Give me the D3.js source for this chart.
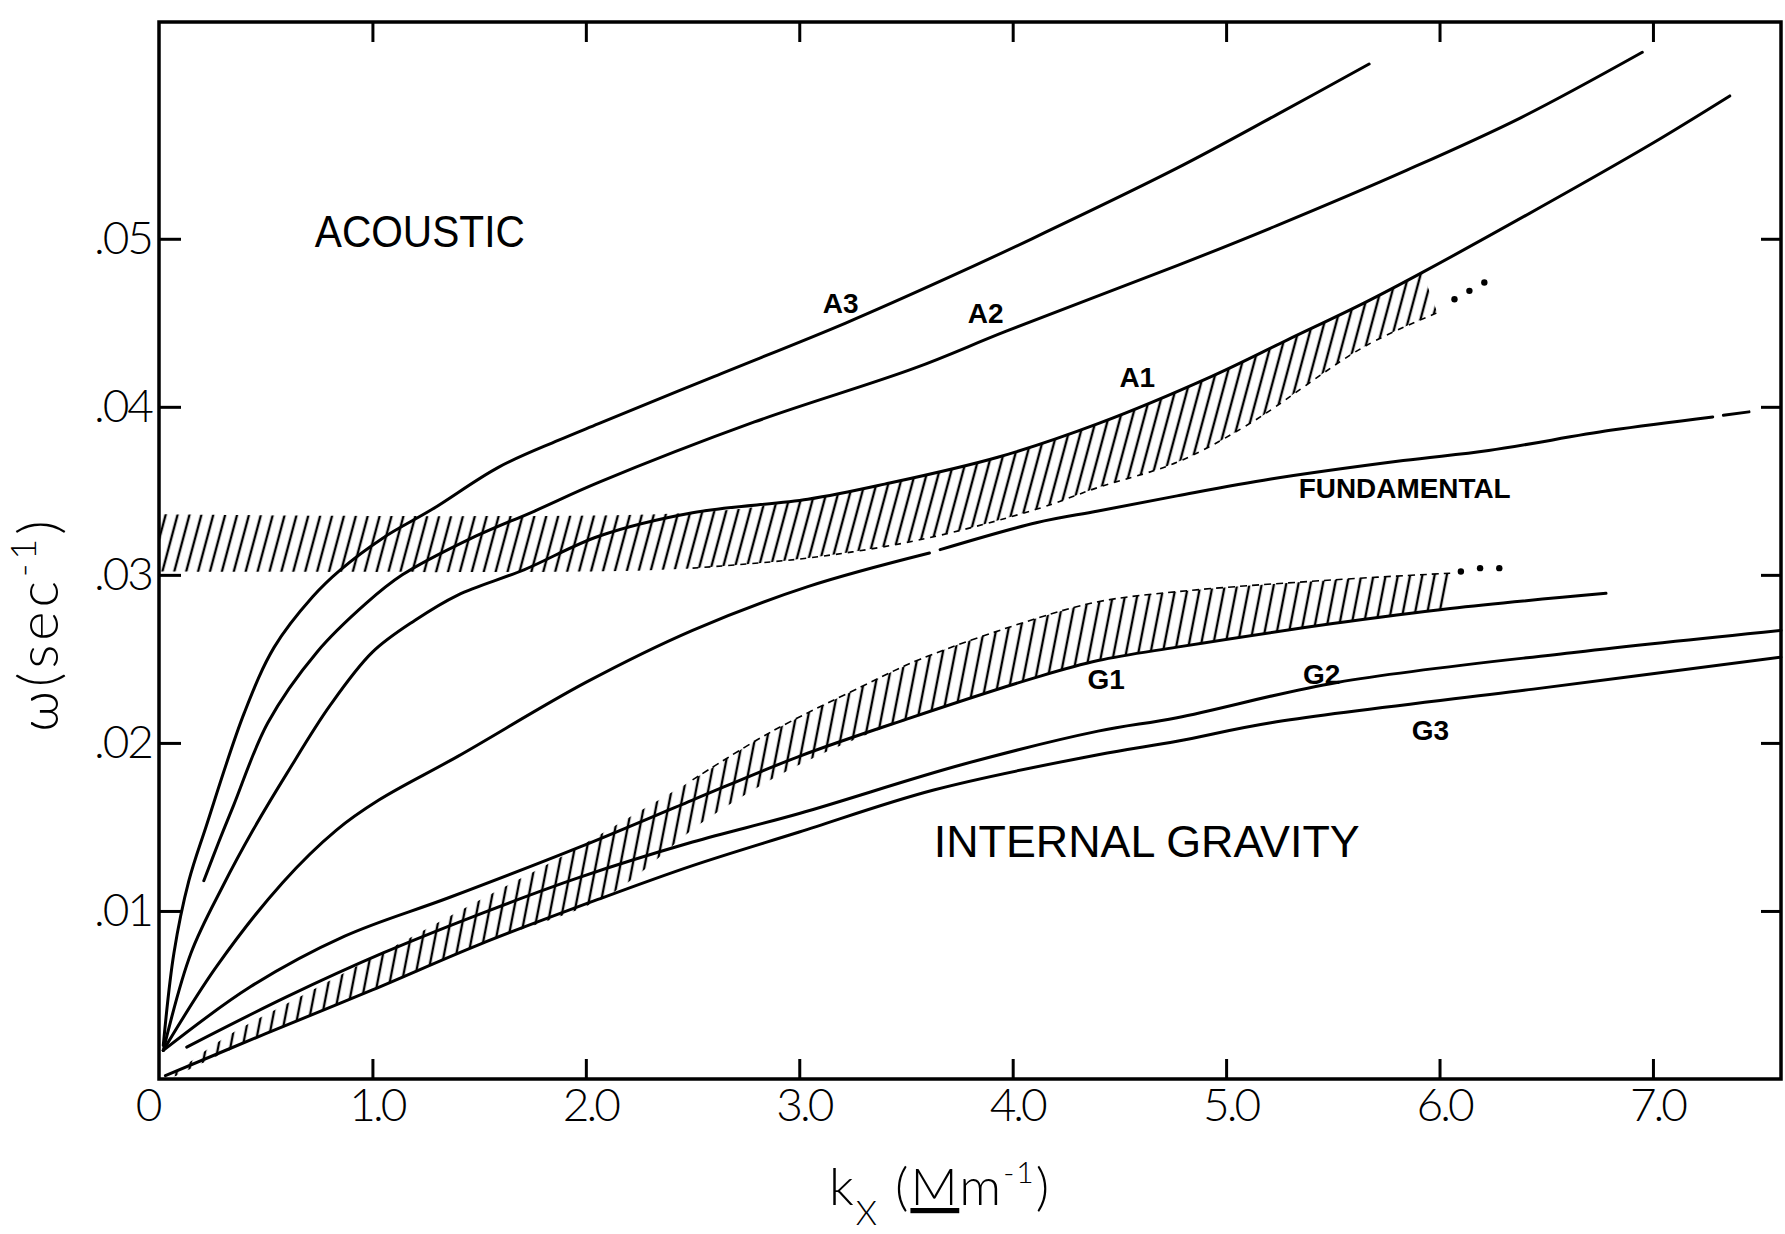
<!DOCTYPE html>
<html lang="en">
<head>
<meta charset="UTF-8">
<script src="https://cdn.jsdelivr.net/npm/d3@7"></script>
<style>
  body { margin: 0; background: #fff; }
</style>
</head>
<body>
<div id="fig"></div>
<script>
const width = 1785, height = 1234;

// dispersion curves, [k_x (Mm^-1), omega (sec^-1)]
const a3Curve = [[0.02,0.0020],[0.07,0.0075],[0.14,0.0118],[0.22,0.0150],[0.40,0.0218],[0.54,0.0257],[0.72,0.0287],[0.85,0.0303],[1.05,0.0322],[1.28,0.0339],[1.59,0.0364],[1.87,0.0380],[2.06,0.0390],[2.6,0.0418],[3.22,0.0450],[3.7,0.0477],[4.09,0.0500],[4.77,0.0542],[5.24,0.0574],[5.67,0.0604]];
const a2Curve = [[0.21,0.0118],[0.28,0.0141],[0.35,0.0163],[0.51,0.0212],[0.74,0.0254],[0.97,0.0283],[1.14,0.0300],[1.45,0.0321],[1.76,0.0338],[2.06,0.0355],[2.79,0.0391],[3.54,0.0423],[3.97,0.0445],[4.77,0.0484],[5.24,0.0508],[5.85,0.0541],[6.38,0.0572],[6.95,0.0611]];
const a1Curve = [[0.02,0.0017],[0.15,0.0075],[0.30,0.0115],[0.44,0.0148],[0.60,0.0182],[0.80,0.0222],[1.00,0.0254],[1.20,0.0273],[1.40,0.0288],[1.71,0.0303],[2.06,0.0323],[2.50,0.0337],[3.04,0.0345],[3.40,0.0354],[3.93,0.0370],[4.40,0.0390],[4.93,0.0418],[5.29,0.0440],[5.65,0.0462],[5.92,0.0480],[6.56,0.0525],[7.00,0.0557],[7.36,0.0585]];
const fundCurve = [[0.02,0.0017],[0.27,0.0067],[0.58,0.0117],[0.83,0.0148],[1.03,0.0166],[1.40,0.0192],[2.00,0.0236],[2.50,0.0267],[3.04,0.0293],[3.61,0.0313]];
const fundCurve2 = [[3.66,0.0315],[4.11,0.0331],[4.40,0.0338],[4.77,0.0347],[5.21,0.0357],[5.83,0.0368],[6.23,0.0374],[6.80,0.0386],[7.28,0.0394]];
const fundCurve3 = [[7.33,0.0395],[7.45,0.0397]];
const g1Curve = [[0.02,0.0017],[0.43,0.0055],[0.87,0.0085],[1.36,0.0108],[1.97,0.0138],[2.5,0.0166],[3.0,0.0192],[3.5,0.0214],[4.11,0.0239],[4.40,0.0249],[4.77,0.0257],[5.5,0.0271],[6.05,0.0280],[6.78,0.0289]];
const g2Curve = [[0.13,0.0019],[0.6,0.0049],[1.05,0.0075],[1.5,0.0098],[1.97,0.0120],[2.5,0.0141],[3.0,0.0158],[3.76,0.0187],[4.40,0.0207],[4.77,0.0215],[5.52,0.0236],[6.64,0.0254],[7.6,0.0267]];
const g3Curve = [[0.03,0.0002],[0.5,0.0027],[1.0,0.0053],[1.5,0.0080],[2.06,0.0107],[2.5,0.0127],[3.0,0.0147],[3.63,0.0172],[4.40,0.0193],[4.77,0.0201],[5.21,0.0212],[6.44,0.0232],[7.6,0.0251]];

// hatched (observed) regions
const aBandTop = [[0,0.0336],[2.5,0.0337],[3.04,0.0345],[3.40,0.0354],[3.93,0.0370],[4.40,0.0390],[4.93,0.0418],[5.29,0.0440],[5.65,0.0462],[5.92,0.0480]];
const aBandBottom = [[0,0.0302],[2.0,0.0302],[2.5,0.0304],[3.04,0.0310],[3.57,0.0321],[4.11,0.0339],[4.40,0.0352],[4.77,0.0367],[5.11,0.0390],[5.65,0.0436],[5.99,0.0456]];
const gBandTop = [[0.05,0.0001],[0.3,0.0024],[0.66,0.0049],[1.19,0.0085],[1.6,0.0113],[1.94,0.0136],[2.1,0.0148],[2.5,0.0178],[2.86,0.0206],[3.3,0.0234],[3.57,0.0250],[4.11,0.0274],[4.40,0.0284],[4.77,0.0290],[5.5,0.0297],[6.05,0.0301]];
const gBandBottom = [[0.05,0.0],[0.5,0.0027],[1.0,0.0053],[1.5,0.0080],[2.1,0.0109],[2.56,0.0154],[3.0,0.0187],[3.5,0.0214],[4.11,0.0239],[4.40,0.0249],[4.77,0.0257],[5.5,0.0271],[6.05,0.0280]];
const aDots = [[6.07,0.0464],[6.14,0.0469],[6.21,0.0474]];
const gDots = [[6.10,0.0302],[6.19,0.0304],[6.28,0.0304]];

const xTicks = [0,1,2,3,4,5,6,7];
const xTickLabels = ["0","1.0","2.0","3.0","4.0","5.0","6.0","7.0"];
const yTicks = [0.01,0.02,0.03,0.04,0.05];
const yTickLabels = [".01",".02",".03",".04",".05"];

const curveNames = ["A3","A2","A1","FUNDAMENTAL","G1","G2","G3"];
const curveNameAt = [[3.11,0.0456],[3.79,0.0450],[4.50,0.0412],[5.34,0.0346],[4.35,0.0232],[5.36,0.0235],[5.87,0.0202]];
const regionNames = ["ACOUSTIC","INTERNAL GRAVITY"];
const regionNameAt = [[0.73,0.0495],[3.63,0.0132]];

const x = d3.scaleLinear().domain([0, 7.6]).range([159, 1781]);
const y = d3.scaleLinear().domain([0, 0.0629]).range([1079, 22]);

const svg = d3.select("#fig").append("svg")
    .attr("width", width)
    .attr("height", height)
    .style("display", "block");
svg.append("rect").attr("width", width).attr("height", height).attr("fill", "#fff");

const defs = svg.append("defs");
function hatch(id, gap, angle, sw) {
    const p = defs.append("pattern")
        .attr("id", id)
        .attr("patternUnits", "userSpaceOnUse")
        .attr("width", gap).attr("height", 40)
        .attr("patternTransform", `rotate(${angle})`);
    p.append("line").attr("x1", gap/2).attr("x2", gap/2).attr("y1", -2).attr("y2", 42)
        .attr("stroke", "#000").attr("stroke-width", sw);
}
hatch("hatchA", 11.5, 15, 2.4);
hatch("hatchG", 12, 11, 2.4);

const line = d3.line().x(d => x(d[0])).y(d => y(d[1])).curve(d3.curveCatmullRom.alpha(0.5));

function band(top, bottom) {
    const t = line(top);
    const b = line(bottom.slice().reverse());
    return t + "L" + b.slice(1) + "Z";
}

svg.append("path").attr("d", band(aBandTop, aBandBottom)).attr("fill", "url(#hatchA)");
svg.append("path").attr("d", band(gBandTop, gBandBottom)).attr("fill", "url(#hatchG)");

// ragged hand-drawn edges of the hatching
svg.append("path").attr("d", line(aBandBottom.filter(d => d[0] >= 2.5)))
    .attr("fill", "none").attr("stroke", "#000").attr("stroke-width", 1.6)
    .attr("stroke-dasharray", "6,6");
svg.append("path").attr("d", line(gBandTop.filter(d => d[0] >= 2.5)))
    .attr("fill", "none").attr("stroke", "#000").attr("stroke-width", 1.6)
    .attr("stroke-dasharray", "7,5");

const curves = [a3Curve, a2Curve, a1Curve, fundCurve, fundCurve2, fundCurve3, g1Curve, g2Curve, g3Curve];
svg.append("g").selectAll("path").data(curves).join("path")
    .attr("d", line)
    .attr("fill", "none")
    .attr("stroke", "#000")
    .attr("stroke-width", 3)
    .attr("stroke-linecap", "round");

svg.append("g").selectAll("circle").data(aDots.concat(gDots)).join("circle")
    .attr("cx", d => x(d[0])).attr("cy", d => y(d[1])).attr("r", 3.2).attr("fill", "#000");

// frame and inward ticks
svg.append("rect")
    .attr("x", x(0)).attr("y", y(0.0629))
    .attr("width", x(7.6) - x(0)).attr("height", y(0) - y(0.0629))
    .attr("fill", "none").attr("stroke", "#000").attr("stroke-width", 3.5);

const tickFont = "Lato, 'Open Sans', 'DejaVu Sans', sans-serif";

function styleAxis(g) {
    g.select(".domain").remove();
    g.selectAll(".tick line").attr("stroke", "#000").attr("stroke-width", 3);
    g.selectAll(".tick text").attr("fill", "#000");
}

svg.append("g").attr("transform", `translate(0,${y(0)})`)
    .call(d3.axisBottom(x).tickValues(xTicks).tickSize(-20).tickPadding(9)
        .tickFormat((d, i) => xTickLabels[i]))
    .attr("font-family", tickFont).attr("font-size", 46).attr("font-weight", 300)
    .call(styleAxis)
    .call(g => g.selectAll(".tick text").attr("dx", d => d === 0 ? -12 : 4).attr("letter-spacing", -3))
    .call(g => g.selectAll(".tick").filter(d => d === 0).select("line").remove());

svg.append("g").attr("transform", `translate(0,${y(0.0629)})`)
    .call(d3.axisTop(x).tickValues(xTicks.slice(1)).tickSize(-20).tickFormat(""))
    .call(styleAxis);

svg.append("g").attr("transform", `translate(${x(0)},0)`)
    .call(d3.axisLeft(y).tickValues(yTicks).tickSize(-22).tickPadding(7)
        .tickFormat((d, i) => yTickLabels[i]))
    .attr("font-family", tickFont).attr("font-size", 46).attr("font-weight", 300)
    .call(styleAxis)
    .call(g => g.selectAll(".tick text").attr("letter-spacing", -2));

svg.append("g").attr("transform", `translate(${x(7.6)},0)`)
    .call(d3.axisRight(y).tickValues(yTicks).tickSize(-20).tickFormat(""))
    .call(styleAxis);

// axis titles
const yTitle = svg.append("text")
    .attr("transform", "translate(58,624) rotate(-90)")
    .attr("text-anchor", "middle")
    .attr("font-family", tickFont).attr("font-size", 56).attr("font-weight", 300)
    .attr("letter-spacing", 4);
yTitle.append("tspan").text("ω(sec");
yTitle.append("tspan").attr("font-size", 36).attr("dy", -22).text("-1");
yTitle.append("tspan").attr("dy", 22).text(")");

const xTitle = svg.append("text")
    .attr("x", 940).attr("y", 1205)
    .attr("text-anchor", "middle")
    .attr("font-family", tickFont).attr("font-size", 52).attr("font-weight", 300)
    .attr("letter-spacing", 2);
xTitle.append("tspan").text("k");
xTitle.append("tspan").attr("font-size", 34).attr("dy", 20).text("X");
xTitle.append("tspan").attr("dy", -20).text(" (");
xTitle.append("tspan").attr("text-decoration", "underline").text("M");
xTitle.append("tspan").text("m");
xTitle.append("tspan").attr("font-size", 30).attr("dy", -22).text("-1");
xTitle.append("tspan").attr("dy", 22).text(")");

// region and curve labels
const labelFont = "'Liberation Sans', Arial, sans-serif";
svg.append("g").selectAll("text").data(regionNames).join("text")
    .attr("x", (d, i) => x(regionNameAt[i][0]))
    .attr("y", (d, i) => y(regionNameAt[i][1]))
    .attr("font-family", labelFont).attr("font-size", 45)
    .attr("textLength", (d, i) => i === 0 ? 210 : 426)
    .attr("lengthAdjust", "spacingAndGlyphs")
    .text(d => d);

svg.append("g").selectAll("text").data(curveNames).join("text")
    .attr("x", (d, i) => x(curveNameAt[i][0]))
    .attr("y", (d, i) => y(curveNameAt[i][1]))
    .attr("font-family", labelFont).attr("font-size", 28).attr("font-weight", "bold")
    .attr("textLength", d => d === "FUNDAMENTAL" ? 212 : null)
    .attr("lengthAdjust", "spacingAndGlyphs")
    .text(d => d);
</script>
</body>
</html>
